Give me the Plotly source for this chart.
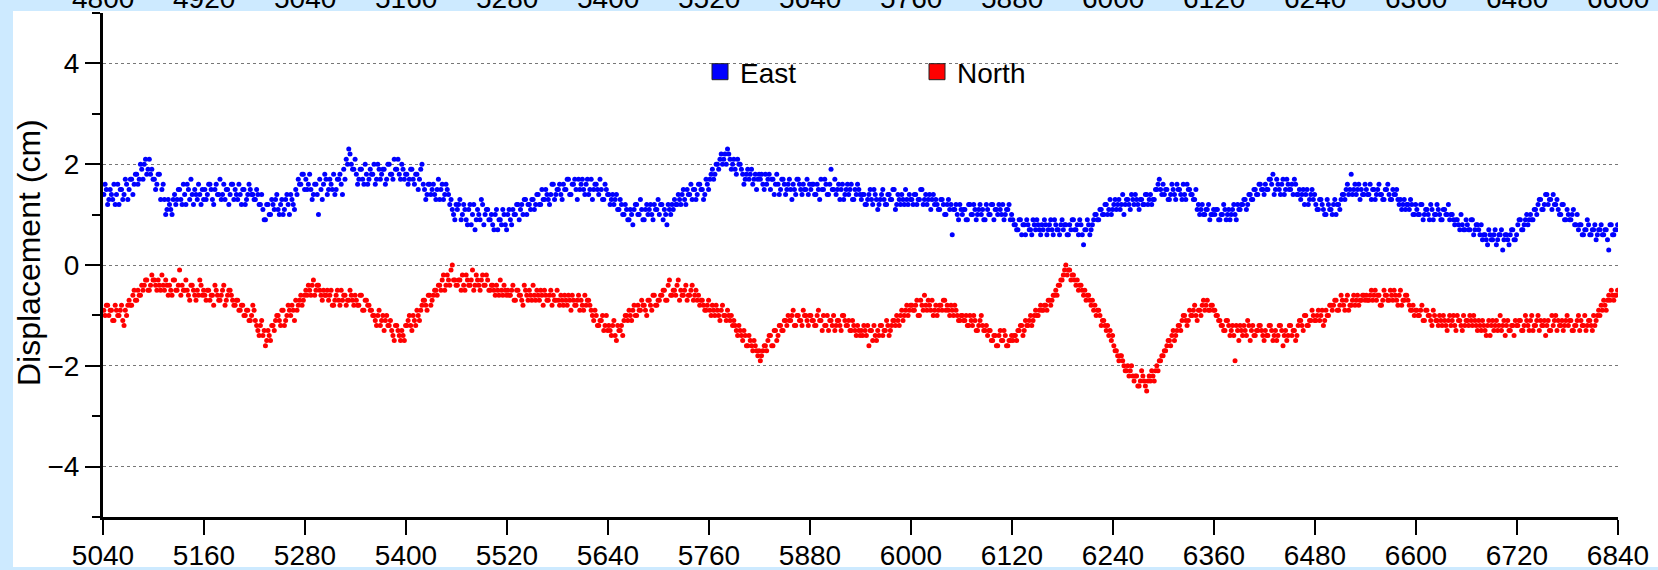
import plotly.graph_objects as go

FONT = "Liberation Sans, Arial, Helvetica, sans-serif"

# Samples: set A at 5041 + 3*i s, set B half-way between (5042.5 + 3*i s)
time_start_a = 5041
time_start_b = 5042.5
time_step = 3

# East displacement, tenths of cm, set A
east_tenths_a = [
    14,15,13,14,16,14,12,15,14,16,15,17,16,18,17,19,20,18,21,19,
    17,16,18,15,13,11,12,10,14,13,15,12,14,16,13,14,15,13,14,15,
    15,14,16,13,15,14,17,14,13,15,14,16,15,13,14,15,12,14,15,14,
    13,14,12,11,9,12,10,12,13,11,12,10,13,12,14,12,15,17,16,18,
    17,16,15,14,16,10,15,16,17,15,16,18,15,17,16,19,21,23,20,19,
    18,17,19,16,18,17,18,20,17,19,18,19,17,20,18,21,19,18,20,17,
    18,17,19,16,18,17,20,15,14,16,15,14,15,13,16,14,15,12,11,9,
    11,13,10,11,8,12,10,7,11,9,12,10,11,9,8,10,7,9,11,8,
    10,9,11,10,12,11,10,13,12,11,13,12,14,12,13,15,13,14,16,14,
    15,14,16,15,17,14,16,15,17,16,15,16,14,17,15,16,14,15,13,15,
    14,13,12,14,11,12,10,11,9,10,11,12,10,11,9,12,11,10,12,11,
    10,12,11,8,11,12,13,12,13,14,13,15,14,13,15,14,16,15,14,16,
    17,19,18,20,21,20,22,23,21,20,19,21,20,18,17,19,18,16,18,17,
    17,16,18,17,15,17,16,16,15,17,14,16,15,16,14,17,15,16,15,14,
    15,16,14,15,17,15,16,14,19,15,14,16,15,13,15,14,16,13,14,15,
    13,14,12,14,13,15,13,12,14,13,12,14,13,15,12,13,14,12,13,14,
    13,14,12,13,15,13,12,14,13,12,12,11,13,10,12,11,6,11,10,12,
    10,11,9,12,10,11,10,12,11,9,11,10,12,11,10,11,12,10,11,9,
    9,8,7,9,8,6,8,7,9,7,8,6,7,8,7,9,6,8,7,8,
    7,8,6,7,9,7,6,8,4,7,8,7,9,10,9,11,10,12,11,10,
    12,11,13,12,10,13,12,14,12,13,11,13,12,14,13,12,13,15,17,14,
    14,15,13,16,14,16,15,13,14,16,15,14,13,11,10,12,10,11,9,10,
    10,11,9,10,11,10,9,11,10,12,11,12,13,12,14,13,15,14,16,15,
    16,15,17,18,15,16,14,17,15,16,15,14,16,14,13,15,14,12,14,13,
    12,11,13,11,10,12,11,12,10,12,13,14,15,14,18,15,14,16,15,14,
    15,14,13,15,14,16,14,13,15,14,13,14,15,12,11,13,12,11,12,10,
    11,10,12,10,11,9,11,10,12,10,9,11,10,9,10,8,9,7,8,7,
    8,7,9,7,8,6,5,6,4,6,5,7,5,6,3,6,5,6,7,5,
    8,9,7,9,8,10,9,11,12,13,11,14,12,13,14,12,11,10,12,9,
    10,9,11,8,7,8,6,7,8,6,7,5,7,8,6,7,3,8,6,7,
]

# East displacement, tenths of cm, set B
east_tenths_b = [
    16,12,15,13,12,16,15,13,17,13,17,14,18,16,20,17,21,19,18,17,
    15,18,13,16,10,13,11,13,12,15,13,16,12,15,17,12,14,16,12,13,
    13,16,15,12,16,14,13,16,15,12,16,13,14,16,12,15,13,16,14,13,
    15,12,14,9,12,10,13,11,14,10,13,11,14,10,13,11,14,16,18,15,
    15,18,13,16,14,17,13,18,14,17,15,14,17,18,14,17,20,22,19,21,
    16,19,17,20,16,19,18,16,20,17,19,16,20,18,17,19,21,17,19,18,
    16,19,17,18,15,19,16,13,16,14,16,13,17,15,13,16,14,13,10,12,
    12,9,12,9,11,8,12,9,10,13,8,11,9,10,7,11,9,8,10,7,
    11,8,10,12,9,12,13,10,12,13,11,14,12,15,13,14,12,16,13,15,
    16,13,15,17,14,16,17,13,15,17,14,17,15,13,16,15,17,13,16,14,
    12,14,13,11,13,10,12,9,11,8,12,10,13,9,11,10,12,9,11,13,
    12,9,10,12,10,11,12,14,12,15,12,14,16,15,13,16,15,13,17,15,
    18,17,20,19,22,21,20,22,19,21,18,20,19,16,18,17,19,17,15,18,
    18,15,16,18,17,14,18,14,17,16,15,17,13,15,17,16,14,15,17,16,
    16,14,16,13,15,17,14,16,15,17,15,13,16,14,16,15,13,15,16,14,
    14,12,13,15,12,14,11,13,15,12,14,13,15,11,14,12,13,15,12,13,
    12,14,13,15,12,14,13,11,14,13,11,13,12,10,13,12,11,12,9,11,
    11,9,12,10,12,9,11,10,9,12,10,12,9,11,12,10,9,11,12,10,
    8,7,9,6,8,9,7,6,8,9,7,8,9,6,8,7,9,7,6,9,
    8,6,8,9,7,8,9,6,7,9,6,8,10,9,11,10,12,10,13,11,
    13,12,11,14,12,13,11,13,14,12,13,12,14,12,14,13,15,16,15,16,
    15,13,14,15,13,15,14,16,13,15,14,13,15,12,11,10,11,12,10,11,
    11,9,10,12,9,11,10,12,9,11,12,13,11,14,13,15,14,16,15,14,
    15,17,16,14,17,15,16,14,17,15,16,17,14,15,14,12,15,13,15,14,
    11,13,12,10,13,11,10,13,12,11,14,13,16,15,14,16,15,13,14,16,
    14,16,15,13,15,14,13,15,16,13,15,14,13,13,12,11,12,13,10,12,
    10,12,9,11,10,12,9,10,11,9,11,10,12,10,9,9,8,10,7,9,
    7,9,6,8,7,8,6,5,7,5,6,4,6,7,5,6,4,7,5,6,
    9,7,8,10,9,9,11,10,13,11,12,14,13,11,12,13,10,12,9,11,
    9,10,8,10,8,6,7,9,6,7,8,6,7,6,7,5,8,6,7,8,
]

# North displacement, tenths of cm, set A
north_tenths_a = [
    -9,-8,-10,-9,-11,-9,-10,-8,-12,-10,-7,-8,-5,-7,-6,-4,-4,-3,-5,-2,
    -3,-5,-4,-2,-5,-4,-4,-6,-3,-5,-1,-4,-5,-5,-7,-4,-6,-5,-3,-6,
    -6,-5,-7,-6,-4,-6,-7,-5,-8,-6,-5,-7,-8,-7,-9,-8,-10,-9,-11,-8,
    -11,-13,-12,-14,-16,-13,-15,-12,-11,-10,-12,-9,-11,-8,-10,-9,-7,-8,-6,-7,
    -5,-4,-6,-3,-5,-4,-6,-5,-6,-7,-5,-8,-6,-7,-5,-6,-8,-7,-6,-8,
    -7,-8,-6,-9,-7,-8,-9,-10,-12,-9,-11,-13,-10,-12,-13,-15,-12,-14,-13,-15,
    -12,-10,-13,-11,-9,-11,-8,-7,-9,-6,-7,-5,-6,-4,-3,-5,-2,-4,0,-3,
    -4,-3,-2,-5,-3,-4,-1,-4,-3,-5,-2,-4,-3,-5,-4,-6,-5,-3,-6,-5,
    -5,-6,-4,-7,-5,-6,-8,-5,-7,-6,-4,-7,-6,-5,-8,-6,-7,-5,-6,-7,
    -7,-6,-8,-7,-6,-9,-7,-8,-6,-7,-9,-8,-7,-9,-11,-10,-12,-11,-13,-10,
    -12,-14,-11,-15,-13,-12,-11,-10,-9,-11,-8,-10,-9,-7,-8,-10,-7,-9,-6,-8,
    -7,-6,-5,-7,-3,-6,-5,-4,-7,-6,-5,-7,-6,-4,-6,-7,-8,-7,-9,-8,
    -9,-8,-10,-9,-11,-8,-10,-9,-11,-12,-12,-14,-13,-15,-14,-16,-15,-17,-16,-18,
    -19,-17,-16,-15,-14,-16,-13,-14,-12,-13,-11,-10,-11,-9,-12,-10,-11,-9,-10,-12,
    -10,-11,-12,-9,-11,-10,-12,-13,-11,-10,-12,-11,-13,-10,-12,-11,-13,-12,-14,-13,
    -13,-12,-14,-16,-13,-12,-15,-14,-12,-13,-11,-14,-12,-11,-10,-12,-9,-10,-8,-9,
    -8,-9,-7,-10,-8,-6,-9,-8,-7,-9,-10,-8,-9,-7,-8,-10,-9,-8,-10,-11,
    -10,-11,-12,-10,-12,-11,-13,-11,-12,-13,-14,-13,-15,-14,-16,-13,-15,-14,-16,-15,
    -15,-14,-13,-12,-14,-11,-12,-10,-11,-9,-10,-8,-9,-8,-7,-8,-6,-5,-4,-3,
    -2,0,-1,-3,-2,-4,-5,-4,-6,-7,-6,-8,-9,-10,-9,-12,-11,-13,-14,-15,
    -16,-17,-19,-18,-20,-21,-22,-20,-23,-22,-24,-21,-23,-25,-22,-21,-23,-20,-19,-18,
    -17,-16,-15,-14,-15,-13,-12,-11,-10,-12,-9,-10,-8,-11,-9,-8,-9,-7,-9,-8,
    -9,-10,-11,-12,-13,-11,-14,-12,-19,-13,-12,-14,-13,-11,-15,-12,-14,-13,-12,-14,
    -13,-14,-12,-15,-13,-14,-12,-16,-13,-14,-12,-13,-15,-12,-11,-13,-10,-12,-11,-10,
    -11,-9,-10,-12,-9,-10,-8,-8,-7,-9,-6,-8,-7,-9,-8,-6,-7,-8,-7,-6,
    -6,-7,-5,-6,-7,-6,-8,-5,-6,-7,-6,-5,-7,-6,-8,-7,-6,-8,-9,-10,
    -9,-10,-8,-11,-9,-10,-12,-10,-11,-10,-12,-11,-13,-10,-11,-12,-10,-11,-13,-12,
    -11,-10,-12,-11,-13,-12,-11,-13,-12,-14,-11,-12,-13,-10,-12,-14,-11,-13,-12,-11,
    -12,-11,-13,-10,-12,-11,-13,-12,-10,-11,-12,-14,-11,-13,-12,-10,-11,-12,-13,-11,
    -12,-11,-13,-12,-10,-11,-12,-13,-11,-12,-10,-11,-9,-8,-7,-9,-6,-5,-7,-6,
]

# North displacement, tenths of cm, set B
north_tenths_b = [
    -10,-8,-9,-11,-8,-10,-9,-11,-9,-8,-8,-6,-7,-5,-6,-5,-3,-5,-4,-3,
    -4,-3,-5,-4,-3,-6,-5,-3,-5,-4,-6,-5,-3,-6,-4,-5,-7,-6,-4,-5,
    -7,-5,-6,-8,-5,-7,-6,-4,-7,-5,-6,-8,-7,-9,-8,-10,-9,-11,-10,-9,
    -12,-14,-11,-13,-15,-14,-12,-13,-10,-11,-9,-12,-10,-9,-8,-11,-9,-7,-8,-6,
    -6,-5,-4,-6,-4,-5,-7,-6,-5,-6,-8,-7,-5,-8,-7,-6,-7,-5,-7,-6,
    -8,-6,-9,-7,-8,-9,-10,-11,-10,-12,-10,-11,-12,-11,-14,-12,-13,-15,-14,-12,
    -11,-12,-10,-12,-10,-9,-7,-8,-6,-8,-6,-5,-4,-5,-2,-4,-3,-1,-3,-4,
    -3,-5,-4,-2,-4,-3,-5,-2,-4,-3,-4,-2,-5,-4,-5,-4,-6,-5,-4,-6,
    -6,-5,-7,-5,-6,-7,-4,-6,-5,-7,-6,-5,-7,-6,-5,-7,-6,-8,-7,-5,
    -8,-7,-6,-8,-7,-6,-8,-7,-9,-8,-6,-7,-8,-10,-9,-12,-11,-10,-12,-13,
    -13,-12,-14,-12,-13,-14,-10,-11,-10,-9,-10,-8,-9,-8,-9,-7,-8,-6,-8,-7,
    -6,-5,-7,-4,-6,-5,-6,-3,-5,-6,-4,-6,-5,-7,-5,-6,-7,-8,-9,-7,
    -10,-9,-8,-10,-9,-10,-11,-10,-10,-11,-13,-12,-14,-13,-16,-14,-16,-15,-17,-17,
    -18,-16,-17,-14,-16,-13,-15,-12,-13,-11,-12,-11,-10,-12,-10,-11,-12,-10,-11,-10,
    -11,-12,-10,-11,-13,-12,-10,-11,-12,-13,-11,-12,-10,-11,-12,-13,-11,-13,-12,-14,
    -14,-13,-12,-13,-15,-14,-13,-12,-14,-13,-12,-13,-11,-12,-11,-10,-11,-9,-10,-8,
    -9,-8,-10,-7,-9,-8,-7,-9,-10,-8,-9,-8,-7,-9,-9,-8,-10,-9,-11,-10,
    -11,-10,-12,-11,-10,-13,-12,-10,-13,-12,-13,-15,-14,-16,-14,-15,-13,-16,-15,-14,
    -14,-15,-13,-12,-13,-12,-11,-12,-10,-10,-9,-9,-8,-9,-7,-7,-6,-6,-4,-3,
    -1,-2,-1,-2,-3,-3,-4,-5,-5,-6,-7,-7,-8,-9,-10,-11,-12,-12,-13,-14,
    -17,-18,-18,-19,-21,-20,-21,-22,-22,-24,-23,-22,-24,-23,-23,-22,-21,-21,-19,-18,
    -17,-15,-16,-13,-14,-12,-13,-10,-11,-11,-10,-9,-10,-9,-10,-7,-8,-9,-8,-9,
    -10,-11,-12,-13,-11,-12,-13,-14,-12,-15,-13,-12,-14,-12,-13,-14,-13,-12,-13,-15,
    -14,-12,-13,-14,-15,-12,-13,-14,-15,-12,-14,-13,-14,-11,-12,-10,-12,-11,-9,-11,
    -10,-11,-9,-11,-10,-8,-9,-7,-9,-8,-7,-9,-6,-8,-7,-8,-6,-7,-6,-7,
    -7,-6,-7,-5,-6,-8,-7,-6,-7,-5,-7,-6,-8,-5,-7,-6,-7,-9,-8,-9,
    -10,-9,-11,-9,-10,-11,-9,-11,-12,-11,-10,-12,-11,-12,-10,-13,-11,-12,-10,-11,
    -12,-11,-10,-12,-11,-13,-12,-14,-11,-12,-13,-11,-12,-13,-11,-12,-13,-12,-14,-12,
    -11,-13,-12,-11,-13,-10,-12,-11,-13,-12,-11,-12,-13,-10,-11,-13,-12,-11,-12,-10,
    -11,-13,-12,-11,-13,-12,-10,-12,-11,-13,-12,-10,-10,-9,-8,-7,-7,-6,-6,-5,
]

x_tick_vals = [5040, 5160, 5280, 5400, 5520, 5640, 5760, 5880, 6000, 6120,
               6240, 6360, 6480, 6600, 6720, 6840]
# clipped tick labels of the neighbouring panel visible at the very top
top_tick_labels = ["4800", "4920", "5040", "5160", "5280", "5400", "5520", "5640",
                   "5760", "5880", "6000", "6120", "6240", "6360", "6480", "6600"]
y_tick_vals = [-4, -2, 0, 2, 4]
y_tick_text = ["\u22124", "\u22122", "0", "2", "4"]
y_minor_vals = [-5, -3, -1, 1, 3, 5]

times_a = [time_start_a + time_step * i for i in range(len(east_tenths_a))]
times_b = [time_start_b + time_step * i for i in range(len(east_tenths_b))]
times = times_a + times_b
east = [v / 10 for v in east_tenths_a + east_tenths_b]
north = [v / 10 for v in north_tenths_a + north_tenths_b]

W, H = 1658, 570
L, R, T, B = 103, 40, 13, 53
PW, PH = W - L - R, H - T - B


def px_x(p):
    return (p - L) / PW


def px_y(p):
    return (H - B - p) / PH


BLUE = "#0000ff"
RED = "#ff0000"

fig = go.Figure()
fig.add_trace(go.Scatter(x=times, y=east, mode="markers", showlegend=False,
                         marker=dict(color=BLUE, size=5, line=dict(width=0))))
fig.add_trace(go.Scatter(x=times, y=north, mode="markers", showlegend=False,
                         marker=dict(color=RED, size=5, line=dict(width=0))))
for name, col in (("East", BLUE), ("North", RED)):
    fig.add_trace(go.Scatter(x=[None], y=[None], mode="markers", name=name,
                             marker=dict(symbol="square", size=16, color=col,
                                         line=dict(color="#222222", width=1))))

annotations = []
for v, lab in zip(x_tick_vals, top_tick_labels):
    annotations.append(dict(x=v, xref="x", y=1, yref="paper", yanchor="bottom",
                            xanchor="center", text=lab, showarrow=False, yshift=-3,
                            font=dict(family=FONT, size=28, color="black")))
annotations.append(dict(x=px_x(29), xref="paper", y=px_y(253), yref="paper",
                        xanchor="center", yanchor="middle", textangle=-90,
                        text="Displacement (cm)", showarrow=False,
                        font=dict(family=FONT, size=32, color="black")))

fig.update_layout(
    width=W, height=H,
    margin=dict(l=L, r=R, t=T, b=B, pad=0, autoexpand=False),
    paper_bgcolor="#cdeaff",
    plot_bgcolor="rgba(0,0,0,0)",
    font=dict(family=FONT, size=28, color="black"),
    shapes=[dict(type="rect", xref="paper", yref="paper", layer="below",
                 x0=px_x(13), x1=px_x(W + 20), y0=px_y(567), y1=px_y(11),
                 fillcolor="white", line=dict(width=0))],
    annotations=annotations,
    legend=dict(orientation="h", x=px_x(700), xanchor="left", y=px_y(72),
                yanchor="middle", bgcolor="rgba(0,0,0,0)", borderwidth=0,
                font=dict(family=FONT, size=28, color="black"),
                entrywidth=172, entrywidthmode="pixels", itemsizing="trace"),
    xaxis=dict(range=[5040, 6840], tickvals=x_tick_vals,
               ticktext=[str(v) for v in x_tick_vals], automargin=False,
               ticks="outside", ticklen=15, tickwidth=2, tickcolor="black",
               ticklabelstandoff=-4,
               showline=True, linewidth=3, linecolor="black",
               showgrid=False, zeroline=False,
               tickfont=dict(family=FONT, size=28, color="black")),
    yaxis=dict(range=[-5, 5], tickvals=y_tick_vals, ticktext=y_tick_text,
               automargin=False,
               ticks="outside", ticklen=15, tickwidth=2, tickcolor="black",
               showline=True, linewidth=3, linecolor="black",
               showgrid=True, gridcolor="#777777", gridwidth=1, griddash="dot",
               zeroline=False,
               minor=dict(tickvals=y_minor_vals, ticks="outside", ticklen=8,
                          tickwidth=2, tickcolor="black", showgrid=False),
               tickfont=dict(family=FONT, size=28, color="black")),
)

fig.write_html("out.html", config={"displayModeBar": False},
               post_script="document.body.style.margin='0';")
